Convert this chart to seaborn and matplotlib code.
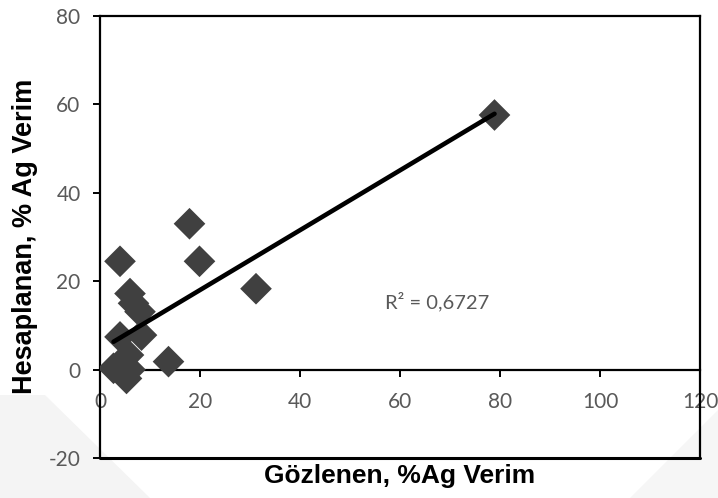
import matplotlib
matplotlib.use("Agg")
import matplotlib.pyplot as plt
import seaborn as sns
import pandas as pd
from matplotlib.patches import Polygon

# Observed vs. calculated Ag yield (%)
gozlenen = [78.9, 17.9, 4.0, 19.9, 31.2, 6.0, 6.7, 8.0, 4.0, 8.3, 5.7, 2.7, 5.3, 13.7, 4.5, 6.0]
hesaplanan = [57.6, 33.0, 24.5, 24.5, 18.3, 17.2, 15.0, 13.1, 7.4, 7.8, 3.3, 0.3, -2.0, 1.8, 0.5, 0.0]

x_ticks = [0, 20, 40, 60, 80, 100, 120]
y_ticks = [-20, 0, 20, 40, 60, 80]
r2_label = "R² = 0,6727"

df = pd.DataFrame({"x": gozlenen, "y": hesaplanan})

sns.set_theme(style="white")
plt.rcParams["font.family"] = ["Lato", "DejaVu Sans"]

fig = plt.figure(figsize=(7.18, 4.98), dpi=100)

# faint background shapes in the lower corners
bg = fig.add_axes([0, 0, 1, 1], zorder=-1)
bg.set_xlim(0, 718)
bg.set_ylim(498, 0)
bg.axis("off")
bg.add_patch(Polygon([[0, 395], [45, 395], [150, 498], [0, 498]], closed=True,
                     facecolor="#f4f4f4", edgecolor="none"))
bg.add_patch(Polygon([[630, 498], [718, 410], [718, 498]], closed=True,
                     facecolor="#f6f6f6", edgecolor="none"))

ax = fig.add_axes([100 / 718, (498 - 458) / 498, 600 / 718, 442 / 498])
ax.patch.set_alpha(0)

sns.regplot(data=df, x="x", y="y", scatter=False, ci=None, ax=ax,
            line_kws={"color": "black", "linewidth": 3.3, "zorder": 4})
sns.scatterplot(data=df, x="x", y="y", marker="D", s=260, color="#404040",
                edgecolor="none", ax=ax, zorder=3)

ax.set_xlim(0, 120)
ax.set_ylim(-20, 80)
ax.set_xticks(x_ticks)
ax.set_yticks(y_ticks)
ax.set_xticklabels([str(v) for v in x_ticks])
ax.set_yticklabels([str(v) for v in y_ticks])

# x axis crosses at y = 0, frame closes the plot area
ax.spines["bottom"].set_position(("data", 0))
for s in ["bottom", "left", "top", "right"]:
    ax.spines[s].set_color("black")
    ax.spines[s].set_linewidth(1.6)
ax.axhline(-20, color="black", linewidth=2.2, clip_on=False, zorder=1)

ax.tick_params(axis="both", which="both", direction="out", length=5, width=1.4,
               color="black", labelcolor="#595959", labelsize=15)
ax.tick_params(axis="x", bottom=True, pad=11)
ax.tick_params(axis="y", left=True, pad=9)

ax.set_xlabel("")
ax.set_ylabel("")
fig.text(400 / 718, 1 - 476 / 498, "Gözlenen, %Ag Verim", ha="center", va="center",
         fontsize=19, fontweight="bold", family=["Liberation Sans", "DejaVu Sans"],
         color="black")
fig.text(25 / 718, 1 - 236 / 498, "Hesaplanan, % Ag Verim", ha="center", va="center",
         rotation=90, fontsize=19.5, fontweight="bold",
         family=["Liberation Sans", "DejaVu Sans"], color="black")

ax.text(57, 15.3, r2_label, ha="left", va="center", fontsize=14.5, color="#595959")

fig.savefig("out.png", dpi=100)
